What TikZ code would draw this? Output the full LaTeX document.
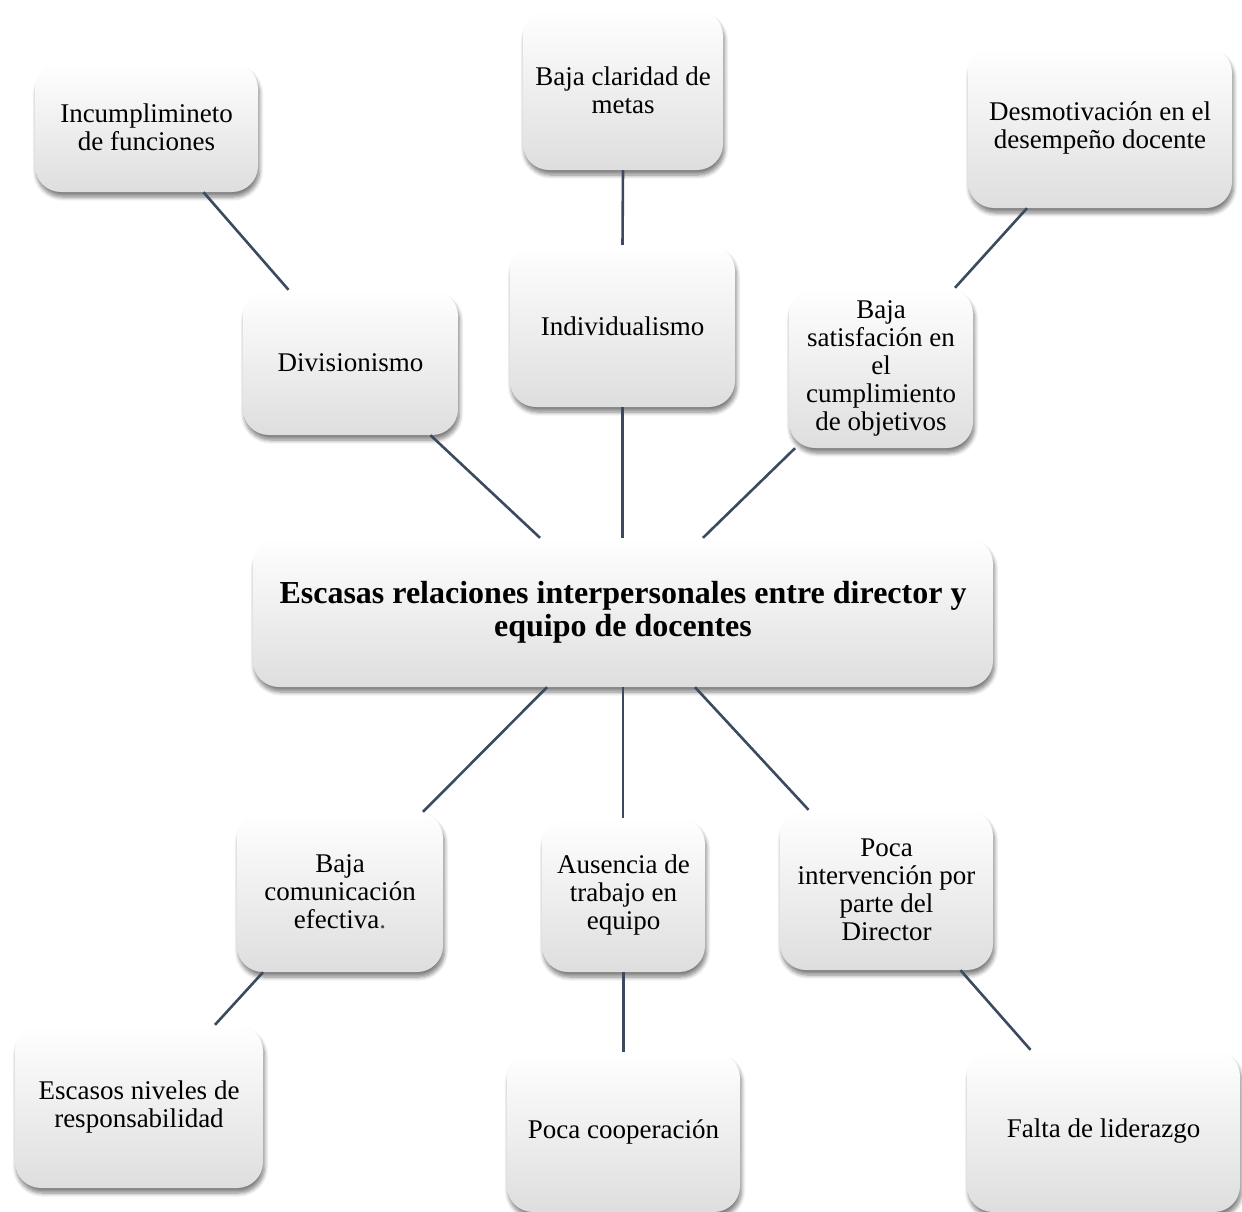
\documentclass[tikz,border=0pt]{standalone}
\usepackage{fontspec}
\setmainfont{Liberation Serif}
\usepackage{xcolor}
\usepackage{tikz}
\usetikzlibrary{
  positioning,
  calc,
  shadows.blur
}
\definecolor{linea}{HTML}{3B4A5E}

\begin{document}
\begin{tikzpicture}[x=1pt, y=1pt,
  caja/.style={rounded corners=26pt, align=center, inner sep=0pt,
    top color=white, middle color=white, bottom color=black!13,
    blur shadow={shadow xshift=1.5pt, shadow yshift=-5pt, shadow blur radius=4pt, shadow blur steps=6, shadow opacity=50},
    font=\fontsize{27}{28}\selectfont},
  enlace/.style={draw=linea, line width=2.6pt}]
\useasboundingbox (0,0) rectangle (1242,-1211);
% central problem
\node[caja, minimum width=740pt, minimum height=149pt, font=\fontsize{32}{33}\selectfont\bfseries] (main) at (623,-612.5) {Escasas relaciones interpersonales entre director y\\ equipo de docentes};
% causes / effects, upper part
\node[caja, minimum width=223pt, minimum height=129pt] (inc) at (146.5,-127.5) {Incumplimineto\\ de funciones};
\node[caja, minimum width=200pt, minimum height=160pt] (clar) at (623,-90) {Baja claridad de\\ metas};
\node[caja, minimum width=264pt, minimum height=161pt] (des) at (1100,-127.5) {Desmotivación en el\\ desempeño docente};
\node[caja, minimum width=215pt, minimum height=145pt] (div) at (350.5,-362.5) {Divisionismo};
\node[caja, minimum width=225pt, minimum height=162pt] (ind) at (622.5,-326) {Individualismo};
\node[caja, minimum width=184pt, minimum height=160pt] (sat) at (881,-368) {Baja\\ satisfación en\\ el\\ cumplimiento\\ de objetivos};
% lower part
\node[caja, minimum width=206pt, minimum height=160pt] (com) at (340,-892) {Baja\\ comunicación\\ efectiva{\color{linea}.}};
\node[caja, minimum width=163pt, minimum height=154pt] (aus) at (623.5,-895) {Ausencia de\\ trabajo en\\ equipo};
\node[caja, minimum width=213pt, minimum height=160pt] (int) at (886.5,-890) {Poca\\ intervención por\\ parte del\\ Director};
\node[caja, minimum width=248pt, minimum height=163pt] (esc) at (139,-1106.5) {Escasos niveles de\\ responsabilidad};
\node[caja, minimum width=233pt, minimum height=160pt] (coop) at (623.5,-1132) {Poca cooperación};
\node[caja, minimum width=273pt, minimum height=162pt] (falta) at (1103.5,-1131) {Falta de liderazgo};
% connectors
\draw[enlace] ([xshift=57pt]inc.south) -- ([xshift=-62pt]div.north);
\draw[enlace] ([xshift=80pt]div.south) -- ([xshift=-83pt]main.north);
\draw[enlace] (clar.south) -- (ind.north);
\draw[enlace] (ind.south) -- (ind.south |- main.north);
\draw[enlace] ([xshift=-86pt]sat.south) -- ([xshift=80pt]main.north);
\draw[enlace] ([xshift=74pt]sat.north) -- ([xshift=-73pt]des.south);
\draw[enlace] ([xshift=-76pt]main.south) -- ([xshift=83pt]com.north);
\draw[enlace] (main.south) -- (main.south |- aus.north);
\draw[enlace] ([xshift=72pt]main.south) -- ([xshift=-78pt]int.north);
\draw[enlace] ([xshift=-77pt]com.south) -- ([xshift=76pt]esc.north);
\draw[enlace] (aus.south) -- (aus.south |- coop.north);
\draw[enlace] ([xshift=74pt]int.south) -- ([xshift=-73pt]falta.north);
\end{tikzpicture}
\end{document}
